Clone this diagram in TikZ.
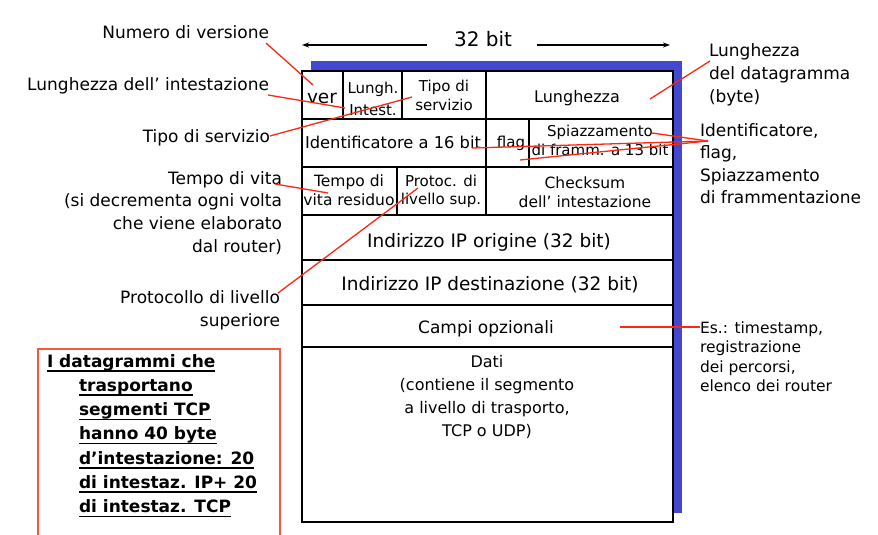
\documentclass[tikz,border=0pt]{standalone}
\usepackage{fontspec}
\setmainfont{DejaVu Sans}
\usetikzlibrary{arrows.meta}
\definecolor{shadowblue}{RGB}{68,72,206}
\definecolor{conred}{RGB}{250,40,20}
\definecolor{boxred}{RGB}{240,90,60}
\newcommand{\fsz}[2]{\fontsize{#1}{#2}\selectfont}
\newcommand{\blk}[2]{\begin{tabular}[t]{@{}#1@{}}#2\end{tabular}}
\newcommand{\myul}[1]{\sbox0{#1}\rlap{\rule[-4.5pt]{\wd0}{1.6pt}}\usebox0}
\begin{document}
\begin{tikzpicture}[x=1pt,y=-1pt,
  every node/.style={inner sep=0pt,outer sep=0pt},
  cell/.style={anchor=base,font={\fsz{15}{19}}},
  bigcell/.style={anchor=base,font={\fsz{18.5}{22}}},
  leftlbl/.style={anchor=base east,font={\fsz{17}{22.7}}},
  rightlbl/.style={anchor=base west,font={\fsz{17}{22.5}}},
  grid/.style={line width=1.6pt,draw=black},
  connector/.style={draw=conred,line width=1.3pt},
  dimarrow/.style={line width=1.3pt,-{Stealth[length=7pt,width=5pt]}}]
\useasboundingbox (0,0) rectangle (878,535);
\clip (0,0) rectangle (878,535);
% shadow and frame
\fill[shadowblue] (311,61) rectangle (682,513);
\draw[grid,fill=white] (302,71) rectangle (673,522);
\draw[grid] (302,119) -- (673,119);
\draw[grid] (302,167) -- (673,167);
\draw[grid] (302,215) -- (673,215);
\draw[grid] (302,260) -- (673,260);
\draw[grid] (302,305) -- (673,305);
\draw[grid] (302,347) -- (673,347);
\draw[grid] (343,71) -- (343,119);
\draw[grid] (402,71) -- (402,119);
\draw[grid] (486,71) -- (486,167);
\draw[grid] (529,119) -- (529,167);
\draw[grid] (397,167) -- (397,215);
\draw[grid] (486,167) -- (486,215);
% 32 bit
\node[anchor=base,font={\fsz{20}{24}}] (bits) at (483,47) {32 bit};
\coordinate (ltail) at (427,45);
\coordinate (lhead) at (302,45);
\coordinate (rtail) at (537,45);
\coordinate (rhead) at (670,45);
\draw[dimarrow] (ltail) -- (lhead);
\draw[dimarrow] (rtail) -- (rhead);
% cells
\node[anchor=base,font={\fsz{18.5}{22}}] (ver) at (322,103) {ver};
\node[cell,font={\fsz{15}{22}}] (hlen) at (373,93) {\blk{c}{Lungh.\\Intest.}};
\node[cell] (tos) at (444,92) {\blk{c}{Tipo di\\servizio}};
\node[cell,font={\fsz{16}{19}}] (len) at (577,102) {Lunghezza};
\node[cell,font={\fsz{16.3}{19}}] (ident) at (393,148) {Identificatore a 16 bit};
\node[cell] (flag) at (511,147) {flag};
\node[cell] (frag) at (600,136) {\blk{c}{Spiazzamento\\di framm. a 13 bit}};
\node[cell,font={\fsz{15.5}{19}}] (ttl) at (349,186) {\blk{c}{Tempo di\\vita residuo}};
\node[cell,font={\fsz{15}{18.5}}] (proto) at (441,186) {\blk{c}{Protoc. di\\livello sup.}};
\node[cell,font={\fsz{15.5}{19}}] (csum) at (585,188) {\blk{c}{Checksum\\dell’ intestazione}};
\node[bigcell] (src) at (489,247) {Indirizzo IP origine (32 bit)};
\node[bigcell] (dst) at (490,290) {Indirizzo IP destinazione (32 bit)};
\node[bigcell,font={\fsz{17}{22}}] (opt) at (486,333) {Campi opzionali};
\node[cell,font={\fsz{16}{23}}] (data) at (487,367) {\blk{c}{Dati\\(contiene il segmento\\a livello di trasporto,\\TCP o UDP)}};
% left labels
\node[leftlbl] (Lver) at (269,39) {Numero di versione};
\node[leftlbl] (Lhlen) at (269,90) {Lunghezza dell’ intestazione};
\node[leftlbl] (Ltos) at (270,142) {Tipo di servizio};
\node[leftlbl] (Lttl) at (282,184) {\blk{r}{Tempo di vita\\(si decrementa ogni volta\\che viene elaborato\\dal router)}};
\node[leftlbl,font={\fsz{17}{23}}] (Lproto) at (280,303) {\blk{r}{Protocollo di livello\\superiore}};
% right labels
\node[rightlbl] (Rlen) at (709,57) {\blk{l}{Lunghezza\\del datagramma\\(byte)}};
\node[rightlbl] (Rfrag) at (700,136) {\blk{l}{Identificatore,\\flag,\\Spiazzamento\\di frammentazione}};
\node[rightlbl,font={\fsz{15.5}{19.6}}] (Ropt) at (700,333) {\blk{l}{Es.: timestamp,\\registrazione\\dei percorsi,\\elenco dei router}};
% note box
\draw[boxred,line width=1.2pt] (38,545) -- (38,349) -- (280,349) -- (280,545);
\node[anchor=base west,font={\bfseries\fsz{17}{24.3}}] (note) at (47,367) {\blk{l}{\myul{I datagrammi che}\\\hspace{32pt}\myul{trasportano}\\\hspace{32pt}\myul{segmenti TCP}\\\hspace{32pt}\myul{hanno 40 byte}\\\hspace{32pt}\myul{d’intestazione: 20}\\\hspace{32pt}\myul{di intestaz. IP+ 20}\\\hspace{32pt}\myul{di intestaz. TCP}}};
% connectors
\coordinate (c1a) at (266,43); \coordinate (c1b) at (313,85);
\coordinate (c2a) at (268,95); \coordinate (c2b) at (345,108);
\coordinate (c3a) at (270,136); \coordinate (c3b) at (412,97);
\coordinate (c4a) at (710,61); \coordinate (c4b) at (650,99);
\coordinate (c5) at (708,141);
\coordinate (c5i) at (472,148); \coordinate (c5f) at (520,160); \coordinate (c5s) at (652,133);
\coordinate (c6a) at (275,184); \coordinate (c6b) at (328,193);
\coordinate (c7a) at (278,293); \coordinate (c7b) at (418,188);
\coordinate (c8a) at (620,327); \coordinate (c8b) at (700,327);
\draw[connector] (c1a) -- (c1b);
\draw[connector] (c2a) -- (c2b);
\draw[connector] (c3a) -- (c3b);
\draw[connector] (c4a) -- (c4b);
\draw[connector] (c5) -- (c5i);
\draw[connector] (c5) -- (c5f);
\draw[connector] (c5) -- (c5s);
\draw[connector] (c6a) -- (c6b);
\draw[connector] (c7a) -- (c7b);
\draw[connector] (c8a) -- (c8b);
\end{tikzpicture}
\end{document}
